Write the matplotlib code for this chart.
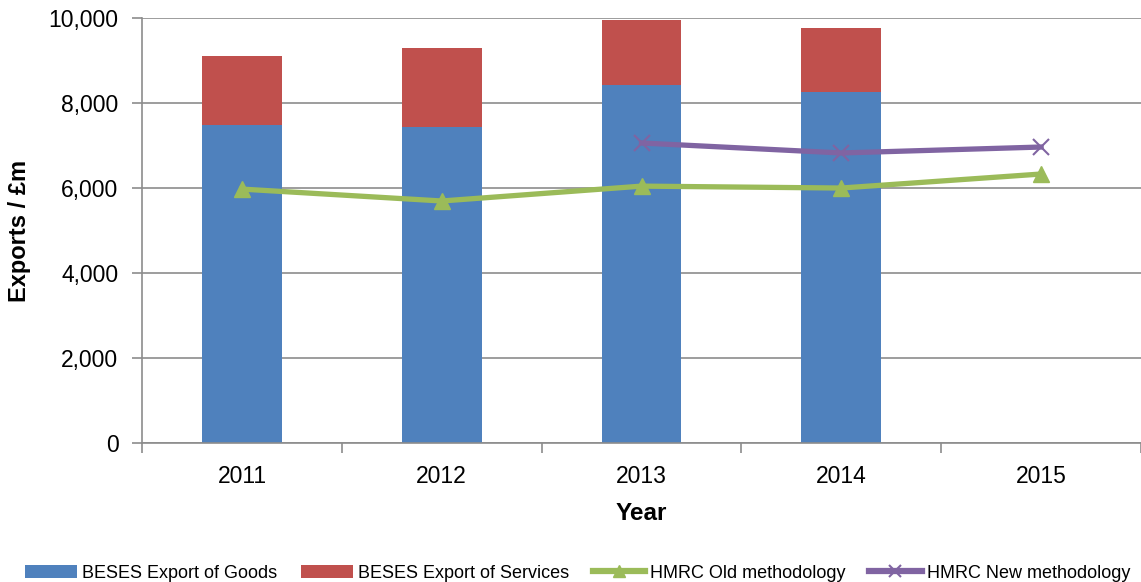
import matplotlib
matplotlib.use("Agg")
import matplotlib.pyplot as plt
import numpy as np
from matplotlib.ticker import FuncFormatter, FixedLocator

years = ["2011", "2012", "2013", "2014", "2015"]
goods = [7480, 7435, 8425, 8260, np.nan]
services = [1625, 1860, 1530, 1505, np.nan]
hmrc_old = [5975, 5695, 6045, 6000, 6330]
hmrc_new = [np.nan, np.nan, 7060, 6825, 6965]

plt.rcParams['font.family'] = ['Liberation Sans', 'DejaVu Sans']

fig = plt.figure(figsize=(11.41, 5.82), dpi=100)
ax = fig.add_axes([0.1245, 0.2388, 0.8755, 0.7302])

x = np.arange(len(years))
blue = "#4F81BD"
red = "#C0504D"
green = "#9BBB59"
purple = "#8064A2"

b1 = ax.bar(x, goods, width=0.4, color=blue, label="BESES Export of Goods", zorder=2)
b2 = ax.bar(x, services, width=0.4, bottom=goods, color=red, label="BESES Export of Services", zorder=2)
l1, = ax.plot(x, hmrc_old, color=green, lw=3.8, marker="^", ms=12, label="HMRC Old methodology", zorder=3)
l2, = ax.plot(x, hmrc_new, color=purple, lw=3.8, marker="x", ms=12, mew=1.5, label="HMRC New methodology", zorder=4)

ax.set_xlim(-0.5, 4.5)
ax.set_ylim(0, 10000)
ax.set_yticks(np.arange(0, 10001, 2000))
ax.yaxis.set_major_formatter(FuncFormatter(lambda v, p: f"{int(v):,}"))
ax.grid(axis="y", color="#8c8c8c", lw=1.2, zorder=0)
ax.set_axisbelow(True)

ax.set_xticks(x)
ax.set_xticklabels(years)
ax.xaxis.set_minor_locator(FixedLocator(np.arange(-0.5, 4.6, 1)))
ax.tick_params(axis="x", which="major", length=0, labelsize=16.5, pad=16)
ax.tick_params(axis="x", which="minor", length=7, color="#8c8c8c", width=1.2, direction="out")
ax.tick_params(axis="y", length=7, color="#8c8c8c", width=1.2, labelsize=16.5, pad=10)

for s in ["top", "right"]:
    ax.spines[s].set_visible(False)
for s in ["left", "bottom"]:
    ax.spines[s].set_color("#8c8c8c")
    ax.spines[s].set_linewidth(1.2)

ax.set_ylabel("Exports / £m", fontsize=17, fontweight="bold", va="center")
ax.yaxis.set_label_coords((19 - 142) / 999, 0.5)
ax.set_xlabel("Year", fontsize=17.5, fontweight="bold", labelpad=10)

leg = fig.legend([b1, b2, l1, l2],
                 ["BESES Export of Goods", "BESES Export of Services", "HMRC Old methodology", "HMRC New methodology"],
                 loc="center", bbox_to_anchor=(0.506, 1 - 573 / 582), ncol=4, frameon=False,
                 fontsize=13, handlelength=2.9, columnspacing=1.3, handletextpad=0.28)
for h in leg.legend_handles[2:]:
    h.set_markersize(8)
    h.set_linewidth(4.5)

fig.savefig("out.png", dpi=100)
